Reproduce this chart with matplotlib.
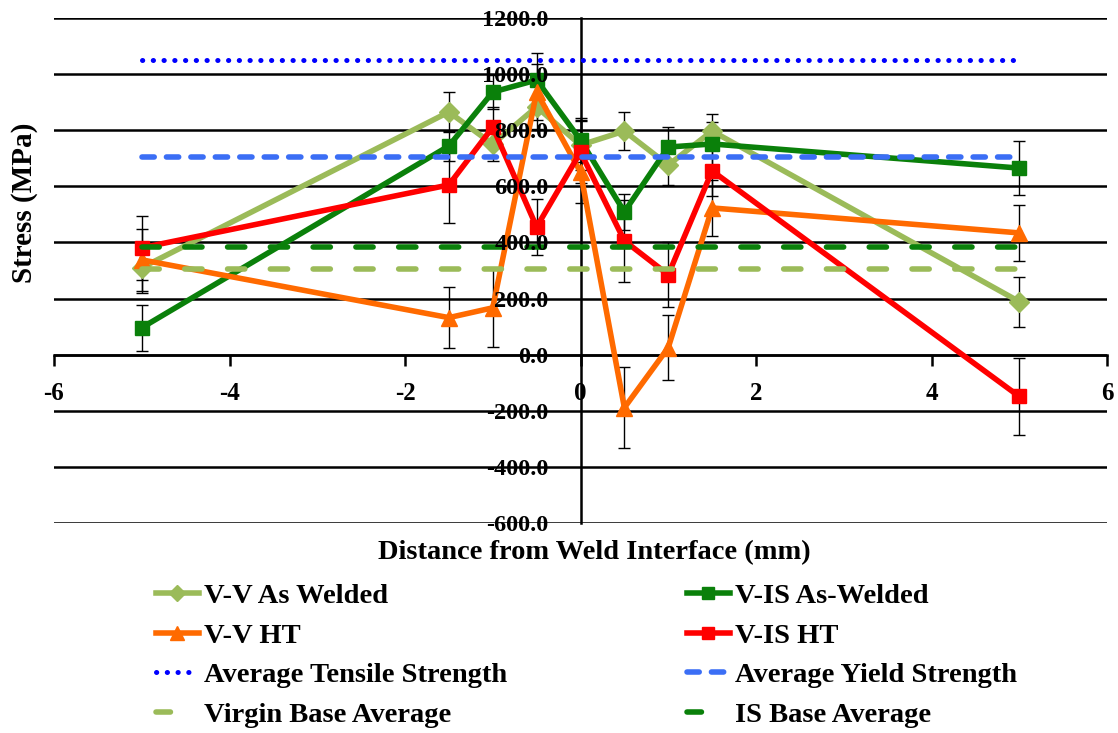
import matplotlib
matplotlib.use("Agg")
import matplotlib.pyplot as plt
from matplotlib.lines import Line2D

# ---- data ----
distance = [-5, -1.5, -1, -0.5, 0, 0.5, 1, 1.5, 5]
vv_aw = [310, 865, 750, 883, 747, 797, 676, 797, 189]
vv_aw_err = [90, 70, 60, 80, 90, 68, 70, 60, 89]
vis_aw = [96, 744, 936, 979, 765, 509, 740, 751, 665]
vis_aw_err = [82, 55, 60, 95, 80, 64, 70, 80, 97]
vv_ht = [338, 132, 167, 936, 651, -189, 25, 523, 434]
vv_ht_err = [110, 110, 140, 100, 110, 145, 115, 100, 100]
vis_ht = [381, 605, 811, 455, 722, 406, 285, 655, -149]
vis_ht_err = [114, 135, 70, 100, 110, 146, 115, 90, 138]
line_x = [-5, 5]
tensile = 1050
yield_strength = 705
virgin_base = 306
is_base = 384
xticks = [-6, -4, -2, 0, 2, 4, 6]
yticks = [-600, -400, -200, 0, 200, 400, 600, 800, 1000, 1200]

FONT = "Liberation Serif"
plt.rcParams['font.family'] = [FONT, 'DejaVu Serif']
plt.rcParams['font.weight'] = 'bold'

fig = plt.figure(figsize=(11.18, 7.33), dpi=100)
ax = fig.add_axes([54/1118, 1-523/733, (1107-54)/1118, (523-18)/733])
ax.set_xlim(-6, 6)
ax.set_ylim(-600, 1200)

for y in yticks:
    ax.axhline(y, color='black', lw=1.8, zorder=1)

C_LG = '#9BBB59'
C_DG = '#0A800A'
C_OR = '#FF6A00'
C_RD = '#FF0000'
C_BL = '#0000FF'
C_YB = '#3B6EF5'

LW = 4.0
TENS_LS = (0, (0.05, 2.1))
YLD_LS = (0, (2.2, 2.2))
BASE_LS = (0, (3.1, 4.6))
BASE_LEG_LS = (0, (2.6, 20))

ekw = dict(ecolor='black', elinewidth=1.0, capsize=4, capthick=1.0)
ax.errorbar(distance, vv_aw, yerr=vv_aw_err, color=C_LG, lw=LW, marker='D', ms=10, zorder=3, **ekw)
ax.errorbar(distance, vis_aw, yerr=vis_aw_err, color=C_DG, lw=LW, marker='s', ms=10.5, zorder=3, **ekw)
ax.errorbar(distance, vv_ht, yerr=vv_ht_err, color=C_OR, lw=LW, marker='^', ms=12, zorder=3, **ekw)
ax.errorbar(distance, vis_ht, yerr=vis_ht_err, color=C_RD, lw=LW, marker='s', ms=10.5, zorder=3, **ekw)

ax.plot(line_x, [tensile]*2, color=C_BL, lw=3.6, ls=TENS_LS, dash_capstyle='round', zorder=4)
ax.plot(line_x, [yield_strength]*2, color=C_YB, lw=LW, ls=YLD_LS, dash_capstyle='round', zorder=4)
ax.plot(line_x, [virgin_base]*2, color=C_LG, lw=LW, ls=BASE_LS, dash_capstyle='round', zorder=4)
ax.plot(line_x, [is_base]*2, color=C_DG, lw=LW, ls=BASE_LS, dash_capstyle='round', zorder=4)

for s in ['top', 'right']:
    ax.spines[s].set_visible(False)
ax.spines['left'].set_position(('data', 0))
ax.spines['bottom'].set_position(('data', 0))
ax.spines['left'].set_linewidth(1.8)
ax.spines['bottom'].set_linewidth(1.8)
ax.spines['left'].set_zorder(2)
ax.yaxis.set_zorder(5)
ax.set_xticks(xticks)
ax.set_xticklabels([str(v) for v in xticks])
ax.set_yticks(yticks)
ax.set_yticklabels([f"{v:.1f}" for v in yticks])
ax.tick_params(axis='x', direction='out', length=8, width=1.8, labelsize=18, pad=12)
ax.tick_params(axis='y', direction='out', length=0, width=1.5, labelsize=17.5, pad=23)
for lab in ax.get_xticklabels() + ax.get_yticklabels():
    lab.set_fontweight('bold')

fig.text(25/1118, 1-203/733, "Stress (MPa)", rotation=90, ha='center', va='center',
         fontsize=21, fontweight='bold')
fig.text(594/1118, 1-553/733, "Distance from Weld Interface (mm)", ha='center', va='center',
         fontsize=20.5, fontweight='bold')

h1 = [Line2D([], [], color=C_LG, lw=LW, marker='D', ms=8),
      Line2D([], [], color=C_OR, lw=LW, marker='^', ms=10),
      Line2D([], [], color=C_BL, lw=3.6, ls=TENS_LS, dash_capstyle='round'),
      Line2D([], [], color=C_LG, lw=LW, ls=BASE_LEG_LS, dash_capstyle='round')]
l1 = ["V-V As Welded", "V-V HT", "Average Tensile Strength", "Virgin Base Average"]
h2 = [Line2D([], [], color=C_DG, lw=LW, marker='s', ms=9),
      Line2D([], [], color=C_RD, lw=LW, marker='s', ms=9),
      Line2D([], [], color=C_YB, lw=LW, ls=YLD_LS, dash_capstyle='round'),
      Line2D([], [], color=C_DG, lw=LW, ls=BASE_LEG_LS, dash_capstyle='round')]
l2 = ["V-IS As-Welded", "V-IS HT", "Average Yield Strength", "IS Base Average"]
lkw = dict(loc='upper left', frameon=False, handlelength=1.5, handletextpad=0.2,
           labelspacing=0.48, borderpad=0, borderaxespad=0, prop={'weight': 'bold', 'size': 20.5})
fig.legend(h1, l1, bbox_to_anchor=(156/1118, 1-583/733), **lkw)
fig.legend(h2, l2, bbox_to_anchor=(687/1118, 1-583/733), **lkw)

fig.savefig("out.png", dpi=100)
